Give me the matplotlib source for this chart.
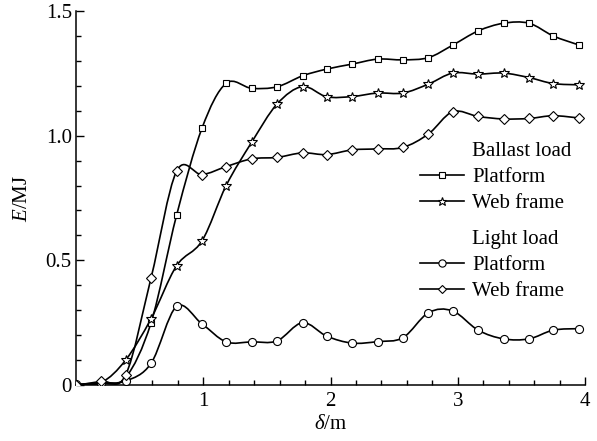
import numpy as np
import matplotlib
matplotlib.use("Agg")
from matplotlib import pyplot as plt
from matplotlib.path import Path
from matplotlib.patches import PathPatch
from matplotlib.lines import Line2D
from matplotlib.ticker import MultipleLocator, FixedLocator, FixedFormatter

plt.rcParams.update({"font.family": "serif",
                     "font.serif": ["Liberation Serif"],
                     "font.size": 15,
                     "mathtext.fontset": "custom",
                     "mathtext.rm": "Liberation Serif",
                     "mathtext.it": "Liberation Serif:italic",
                     "axes.linewidth": 1.1})

# displacement (m) at the marker positions
delta = [0.0, 0.2, 0.39, 0.59, 0.79, 0.99, 1.18, 1.38, 1.58, 1.78, 1.97,
         2.17, 2.37, 2.57, 2.77, 2.96, 3.16, 3.36, 3.56, 3.75, 3.95]

# energy (MJ)
ballast_platform = [0.0, 0.005, 0.03, 0.25, 0.68, 1.03, 1.21, 1.19, 1.196, 1.24, 1.267,
                    1.287, 1.307, 1.304, 1.313, 1.363, 1.42, 1.451, 1.451, 1.40, 1.364]
ballast_web = [0.0, 0.01, 0.10, 0.266, 0.478, 0.578, 0.80, 0.973, 1.127, 1.197, 1.156,
               1.157, 1.171, 1.171, 1.207, 1.251, 1.247, 1.251, 1.233, 1.209, 1.204]
light_platform = [0.003, 0.008, 0.016, 0.087, 0.315, 0.245, 0.173, 0.173, 0.177, 0.25, 0.196,
                  0.168, 0.174, 0.19, 0.29, 0.297, 0.22, 0.185, 0.185, 0.22, 0.226]
light_web = [0.0, 0.015, 0.04, 0.43, 0.857, 0.844, 0.876, 0.907, 0.913, 0.931, 0.924,
             0.943, 0.947, 0.953, 1.007, 1.096, 1.077, 1.067, 1.069, 1.08, 1.071]

y_ticks = [0, 0.5, 1.0, 1.5]
y_ticklabels = ["0", "0.5", "1.0", "1.5"]
x_ticks = [1, 2, 3, 4]


def smooth_path(x, y):
    # Catmull-Rom curve through the points, drawn as cubic bezier segments.
    p = np.column_stack([x, y]).astype(float)
    ext = np.vstack([p[0], p, p[-1]])
    verts = [p[0]]
    codes = [Path.MOVETO]
    for i in range(len(p) - 1):
        p0, p1, p2, p3 = ext[i], ext[i + 1], ext[i + 2], ext[i + 3]
        verts += [p1 + (p2 - p0) / 6.0, p2 - (p3 - p1) / 6.0, p2]
        codes += [Path.CURVE4] * 3
    return Path(verts, codes)


fig = plt.figure(figsize=(5.97, 4.41), dpi=100)
ax = fig.add_axes([76 / 597, 56 / 441, 509 / 597, 374 / 441])

series = [(ballast_platform, "s", 5.0),
          (ballast_web, "*", 7.0),
          (light_platform, "o", 5.8),
          (light_web, "D", 5.0)]
for vals, mk, ms in series:
    ax.add_patch(PathPatch(smooth_path(delta, vals), fill=False, edgecolor="black",
                           linewidth=1.2, zorder=2))
    ax.plot(delta, vals, linestyle="none", marker=mk, markersize=ms, markerfacecolor="white",
            markeredgecolor="black", markeredgewidth=0.8, zorder=3)

ax.set_xlim(0, 4)
ax.set_ylim(0, 1.5)
ax.spines["top"].set_visible(False)
ax.spines["right"].set_visible(False)
ax.xaxis.set_major_locator(FixedLocator(x_ticks))
ax.xaxis.set_minor_locator(MultipleLocator(0.2))
ax.yaxis.set_major_locator(FixedLocator(y_ticks))
ax.yaxis.set_major_formatter(FixedFormatter(y_ticklabels))
ax.yaxis.set_minor_locator(MultipleLocator(0.1))
ax.tick_params(which="both", direction="in", width=1.0, color="black")
ax.tick_params(which="major", length=6)
ax.tick_params(which="minor", length=3.5)
ax.tick_params(axis="x", which="major", pad=5)
ax.tick_params(axis="y", which="major", pad=3)
ax.set_xlabel(r"$\delta$/m", labelpad=3)
ax.set_ylabel(r"$E$/MJ", labelpad=10)

blank = Line2D([], [], linestyle="none")


def entry(mk, ms):
    return Line2D([], [], color="black", linewidth=1.2, marker=mk, markersize=ms * 0.9,
                  markerfacecolor="white", markeredgecolor="black", markeredgewidth=0.8)


leg_kw = dict(loc="upper left", frameon=False, borderpad=0, borderaxespad=0,
              handlelength=2.1, handletextpad=0.4, labelspacing=0.32,
              bbox_transform=fig.transFigure)
leg1 = ax.legend([blank, entry("s", 5.0), entry("*", 7.0)],
                 ["Ballast load", "Platform", "Web frame"],
                 bbox_to_anchor=(420 / 597, 1 - 141 / 441), **leg_kw)
ax.add_artist(leg1)
ax.legend([blank, entry("o", 5.8), entry("D", 5.0)],
          ["Light load", "Platform", "Web frame"],
          bbox_to_anchor=(420 / 597, 1 - 229 / 441), **leg_kw)

fig.savefig("out.png", dpi=100)
